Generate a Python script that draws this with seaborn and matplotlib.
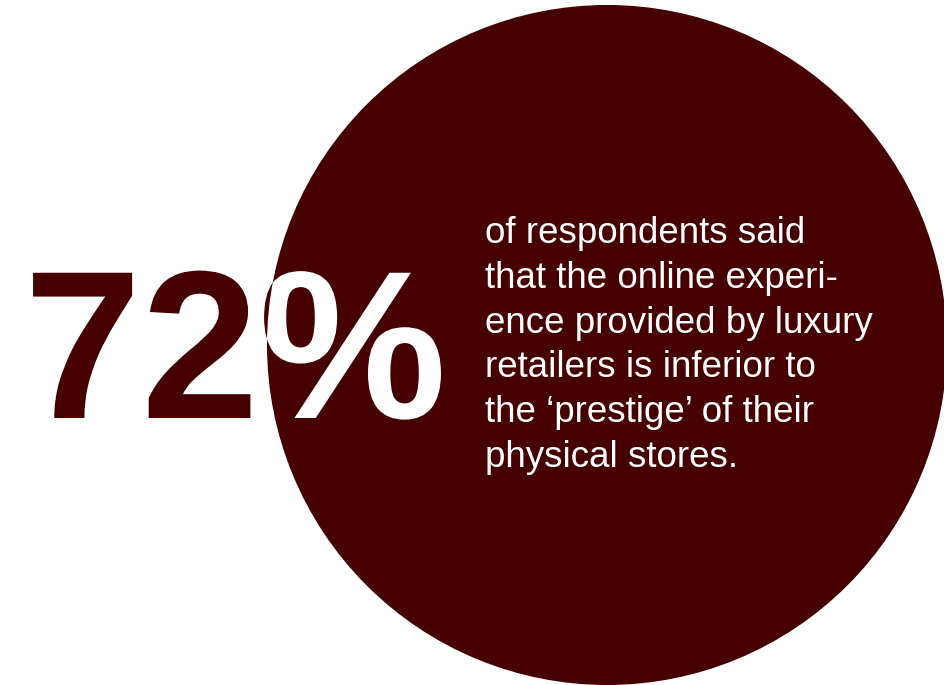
import matplotlib
matplotlib.use("Agg")
import matplotlib.pyplot as plt
import seaborn as sns
from matplotlib.patches import Circle, PathPatch
from matplotlib.textpath import TextPath
from matplotlib.font_manager import FontProperties
from matplotlib.transforms import Affine2D

# ---- data ----
percent_value = 72
headline = f"{percent_value}%"
body_lines = [
    "of respondents said",
    "that the online experi-",
    "ence provided by luxury",
    "retailers is inferior to",
    "the \u2018prestige\u2019 of their",
    "physical stores.",
]

dark_red = "#460000"

sns.set_theme(style="white")
plt.rcParams["font.family"] = ["Liberation Sans", "DejaVu Sans"]

fig = plt.figure(figsize=(9.45, 6.85), dpi=100)
ax = fig.add_axes([0, 0, 1, 1])
ax.set_xlim(0, 945)
ax.set_ylim(685, 0)
ax.set_aspect("equal")
ax.axis("off")

center = (607, 345)
radius = 340

# circle
circ = Circle(center, radius, facecolor=dark_red, edgecolor="none", zorder=2)
ax.add_patch(circ)

# headline as path: dark red outside circle, white inside
fp = FontProperties(family="Liberation Sans", weight="bold")
tp = TextPath((0, 0), headline, size=152, prop=fp)
px = 100 / 72.0
tr = Affine2D().scale(px, -px).translate(24, 418) + ax.transData
outer = PathPatch(tp, transform=tr, facecolor=dark_red, edgecolor="none", zorder=1)
ax.add_patch(outer)
inner = PathPatch(tp, transform=tr, facecolor="white", edgecolor="none", zorder=3)
ax.add_patch(inner)
inner.set_clip_path(circ)

# body text
y0 = 243
step = 44.8
for i, line in enumerate(body_lines):
    ax.text(485, y0 + i * step, line, color="white", fontsize=26.5,
            ha="left", va="baseline", zorder=4)

fig.savefig("out.png", dpi=100, facecolor="white")
